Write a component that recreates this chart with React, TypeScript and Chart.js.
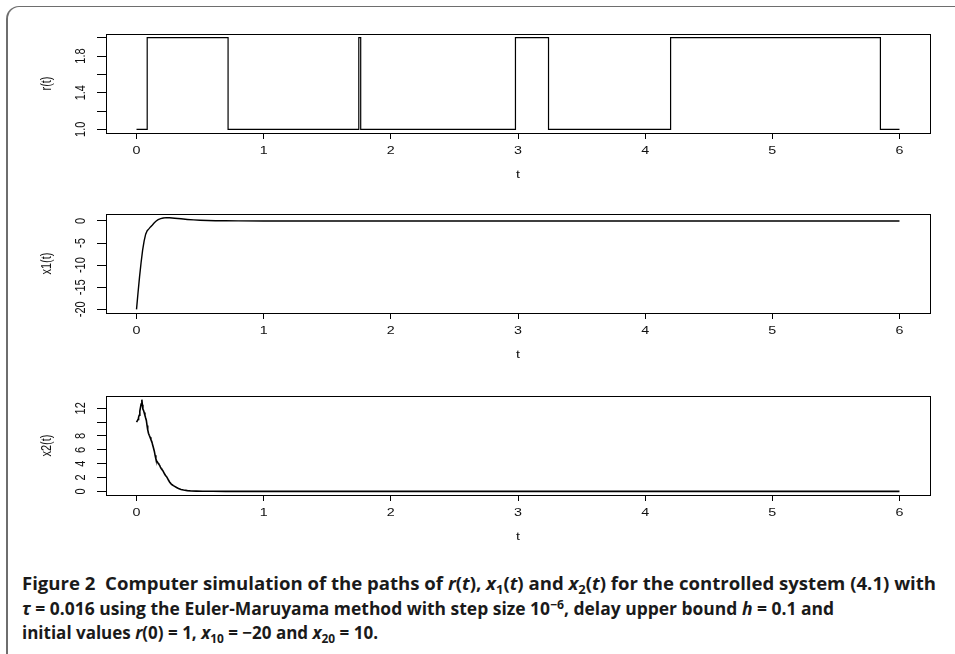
import React, { useEffect, useLayoutEffect, useRef } from 'react';
import { Chart, registerables } from 'chart.js';
Chart.register(...registerables);

// ---- data ----
const tTicks = [0, 1, 2, 3, 4, 5, 6];
const tTickLabels = ['0', '1', '2', '3', '4', '5', '6'];

const rTimes = [0, 0.084, 0.72, 1.748, 1.763, 2.98, 3.24, 4.2, 5.85, 6.0];
const rValues = [1, 2, 1, 2, 1, 2, 1, 2, 1, 1];
const rTicks = [1.0, 1.2, 1.4, 1.6, 1.8, 2.0];
const rTickLabels = ['1.0', '', '1.4', '', '1.8', ''];

const x1Times = [0, 0.012, 0.024, 0.036, 0.048, 0.06, 0.072, 0.084, 0.097, 0.11, 0.125, 0.14, 0.155, 0.17, 0.19, 0.21, 0.235, 0.26, 0.3, 0.35, 0.4, 0.45, 0.5, 0.56, 0.62, 0.7, 0.8, 1.0, 1.5, 2, 3, 4, 5, 6];
const x1Values = [-20, -16.2, -12.6, -9.4, -6.6, -4.5, -3.0, -2.2, -1.8, -1.35, -0.9, -0.4, 0.0, 0.3, 0.52, 0.66, 0.74, 0.73, 0.62, 0.48, 0.34, 0.23, 0.15, 0.09, 0.05, 0.03, 0.01, 0, 0, 0, 0, 0, 0, 0];
const x1Ticks = [-20, -15, -10, -5, 0];
const x1TickLabels = ['-20', '-15', '-10', '-5', '0'];

const x2Times = [0, 0.006, 0.012, 0.016, 0.021, 0.026, 0.031, 0.036, 0.042, 0.046, 0.05, 0.055, 0.06, 0.066, 0.072, 0.077, 0.083, 0.088, 0.094, 0.1, 0.107, 0.113, 0.12, 0.127, 0.133, 0.14, 0.146, 0.152, 0.158, 0.164, 0.17, 0.176, 0.182, 0.188, 0.194, 0.2, 0.207, 0.214, 0.221, 0.228, 0.235, 0.243, 0.252, 0.26, 0.27, 0.28, 0.29, 0.3, 0.315, 0.33, 0.35, 0.37, 0.4, 0.43, 0.47, 0.52, 0.6, 0.7, 1, 2, 3, 4, 5, 6];
const x2Values = [10.0, 10.2, 10.4, 10.7, 11.0, 11.6, 12.1, 12.6, 13.25, 12.5, 11.9, 11.7, 11.4, 11.0, 10.6, 10.3, 9.5, 8.9, 8.4, 8.1, 7.8, 7.5, 7.2, 6.7, 6.3, 5.8, 5.2, 4.7, 4.4, 4.25, 4.05, 3.9, 3.75, 3.5, 3.3, 3.15, 3.0, 2.75, 2.5, 2.3, 2.15, 1.9, 1.6, 1.35, 1.12, 0.95, 0.82, 0.72, 0.55, 0.42, 0.27, 0.18, 0.1, 0.05, 0.03, 0.015, 0.005, 0, 0, 0, 0, 0, 0, 0];
const x2Ticks = [0, 2, 4, 6, 8, 10, 12];
const x2TickLabels = ['0', '2', '4', '6', '8', '', '12'];

const xTitle = 't';
const yTitles = ['r(t)', 'x1(t)', 'x2(t)'];

// ---- helpers ----
function pad4(min: number, max: number) {
  const d = max - min;
  return { min: min - 0.04 * d, max: max + 0.04 * d };
}

const TEXT_STRETCH = 1.3;
const FONT = '11px "Liberation Sans", Arial, Helvetica, sans-serif';

function drawText(ctx: CanvasRenderingContext2D, text: string, x: number, y: number, rotate: boolean) {
  if (!text) return;
  ctx.save();
  ctx.translate(x, y);
  ctx.scale(TEXT_STRETCH, 1);
  if (rotate) ctx.rotate(-Math.PI / 2);
  ctx.fillText(text, 0, 0);
  ctx.restore();
}

function makeDecor(yTicks: number[], yLabels: string[], yTitle: string) {
  return {
    id: 'panelDecor',
    afterDraw(chart: any) {
      const { ctx, chartArea: a, scales } = chart;
      const xs = scales.x;
      const ys = scales.y;
      ctx.save();
      ctx.strokeStyle = '#000';
      ctx.lineWidth = 1;
      ctx.strokeRect(Math.round(a.left) + 0.5, Math.round(a.top) + 0.5, Math.round(a.right - a.left), Math.round(a.bottom - a.top));
      ctx.fillStyle = '#111';
      ctx.font = FONT;
      ctx.textAlign = 'center';
      ctx.textBaseline = 'middle';
      tTicks.forEach((v, i) => drawText(ctx, tTickLabels[i], xs.getPixelForValue(v), a.bottom + 18, false));
      yTicks.forEach((v, i) => drawText(ctx, yLabels[i], a.left - 24.5, ys.getPixelForValue(v), true));
      drawText(ctx, xTitle, (a.left + a.right) / 2, a.bottom + 42, false);
      drawText(ctx, yTitle, a.left - 59, (a.top + a.bottom) / 2, true);
      ctx.restore();
    },
  };
}

function makeConfig(times: number[], values: number[], stepped: boolean, lw: number, yTicks: number[], yLabels: string[], yTitle: string): any {
  const yr = pad4(Math.min(...values), Math.max(...values));
  const xr = pad4(Math.min(...tTicks), Math.max(...tTicks));
  return {
    type: 'line',
    data: {
      datasets: [
        {
          data: times.map((t, i) => ({ x: t, y: values[i] })),
          borderColor: '#000',
          borderWidth: lw,
          pointRadius: 0,
          stepped: stepped ? 'before' : false,
          tension: 0,
          fill: false,
        },
      ],
    },
    options: {
      animation: false,
      responsive: false,
      maintainAspectRatio: false,
      events: [],
      layout: { padding: { left: 40, right: 25, top: 34, bottom: 8 } },
      plugins: { legend: { display: false }, tooltip: { enabled: false }, title: { display: false } },
      scales: {
        x: {
          type: 'linear',
          min: xr.min,
          max: xr.max,
          afterBuildTicks: (s: any) => { s.ticks = tTicks.map((v) => ({ value: v })); },
          afterFit: (s: any) => { s.height = 49; },
          grid: { display: true, drawOnChartArea: false, drawTicks: true, tickLength: 6, color: '#000', lineWidth: 1 },
          border: { display: false },
          ticks: { display: false },
        },
        y: {
          type: 'linear',
          min: yr.min,
          max: yr.max,
          afterBuildTicks: (s: any) => { s.ticks = yTicks.map((v) => ({ value: v })); },
          afterFit: (s: any) => { s.width = 66; },
          grid: { display: true, drawOnChartArea: false, drawTicks: true, tickLength: 9, color: '#000', lineWidth: 1 },
          border: { display: false },
          ticks: { display: false },
        },
      },
    },
    plugins: [makeDecor(yTicks, yLabels, yTitle)],
  };
}

function Panel({ top, cfg }: { top: number; cfg: () => any }) {
  const ref = useRef<HTMLCanvasElement | null>(null);
  useEffect(() => {
    if (!ref.current) return;
    const chart = new Chart(ref.current, cfg());
    return () => chart.destroy();
  }, []);
  return (
    <canvas
      ref={ref}
      width={955}
      height={190}
      style={{ position: 'absolute', left: 0, top, width: 955, height: 190 }}
    />
  );
}

const subStyle: React.CSSProperties = { fontSize: '0.7em', position: 'relative', top: '0.3em', verticalAlign: 'baseline' };
const supStyle: React.CSSProperties = { fontSize: '0.7em', position: 'relative', top: '-0.5em', verticalAlign: 'baseline' };

const captionTargets = [914, 812, 356];
const captionCenters = [583, 608, 632];

export default function App() {
  const lineRefs = useRef<(HTMLSpanElement | null)[]>([]);
  useLayoutEffect(() => {
    const fit = () => {
      lineRefs.current.forEach((el, i) => {
        if (!el) return;
        el.style.transform = 'none';
        const w = el.getBoundingClientRect().width;
        if (w > 0) el.style.transform = `scaleX(${captionTargets[i] / w})`;
      });
    };
    fit();
    if ((document as any).fonts && (document as any).fonts.ready) (document as any).fonts.ready.then(fit);
  }, []);

  const lineStyle = (i: number): React.CSSProperties => ({
    position: 'absolute',
    left: 22,
    top: captionCenters[i] - 12,
    height: 24,
    lineHeight: '24px',
    whiteSpace: 'nowrap',
  });
  const spanStyle: React.CSSProperties = { display: 'inline-block', transformOrigin: '0 50%', whiteSpace: 'nowrap' };

  return (
    <div style={{ position: 'fixed', left: 0, top: 0, width: 955, height: 654, overflow: 'hidden', background: '#fff' }}>
      <div
        style={{
          position: 'absolute',
          left: 6,
          top: 6,
          width: 1100,
          height: 900,
          borderTop: '1.5px solid #6e6e6e',
          borderLeft: '2px solid #6e6e6e',
          borderTopLeftRadius: 13,
          boxSizing: 'border-box',
        }}
      />
      <Panel top={0} cfg={() => makeConfig(rTimes, rValues, true, 1.2, rTicks, rTickLabels, yTitles[0])} />
      <Panel top={180} cfg={() => makeConfig(x1Times, x1Values, false, 1.4, x1Ticks, x1TickLabels, yTitles[1])} />
      <Panel top={362} cfg={() => makeConfig(x2Times, x2Values, false, 1.6, x2Ticks, x2TickLabels, yTitles[2])} />
      <div style={{ fontFamily: '"Open Sans", "Noto Sans", sans-serif', fontWeight: 700, fontSize: 17.5, color: '#1a1a1a' }}>
        <div style={lineStyle(0)}>
          <span ref={(el) => { lineRefs.current[0] = el; }} style={spanStyle}>
            Figure 2&nbsp;&nbsp;Computer simulation of the paths of <i>r</i>(<i>t</i>), <i>x</i><span style={subStyle}>1</span>(<i>t</i>) and <i>x</i><span style={subStyle}>2</span>(<i>t</i>) for the controlled system (4.1) with
          </span>
        </div>
        <div style={lineStyle(1)}>
          <span ref={(el) => { lineRefs.current[1] = el; }} style={spanStyle}>
            <i>τ</i> = 0.016 using the Euler-Maruyama method with step size 10<span style={supStyle}>−6</span>, delay upper bound <i>h</i> = 0.1 and
          </span>
        </div>
        <div style={lineStyle(2)}>
          <span ref={(el) => { lineRefs.current[2] = el; }} style={spanStyle}>
            initial values <i>r</i>(0) = 1, <i>x</i><span style={subStyle}>10</span> = −20 and <i>x</i><span style={subStyle}>20</span> = 10.
          </span>
        </div>
      </div>
    </div>
  );
}
